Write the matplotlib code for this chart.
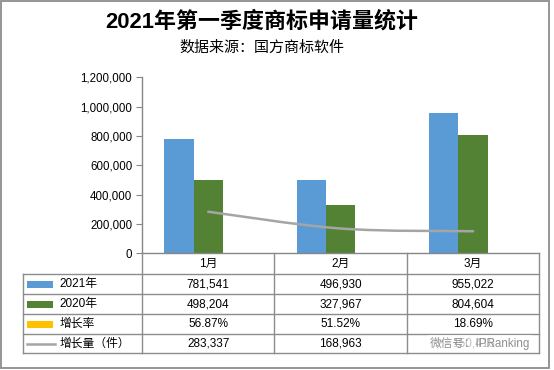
import matplotlib
matplotlib.use("Agg")
import matplotlib.pyplot as plt
import matplotlib.transforms as mtransforms
from matplotlib.patches import Rectangle
from matplotlib.lines import Line2D
from matplotlib.path import Path
from matplotlib.patches import PathPatch
import numpy as np

plt.rcParams['font.family'] = ['Liberation Sans', 'Noto Sans CJK SC', 'DejaVu Sans']

title = "2021年第一季度商标申请量统计"
subtitle = "数据来源：国方商标软件"
months = ["1月", "2月", "3月"]
series_names = ["2021年", "2020年", "增长率", "增长量（件）"]
v2021 = [781541, 496930, 955022]
v2020 = [498204, 327967, 804604]
growth_rate = [0.5687, 0.5152, 0.1869]
growth_rate_txt = ["56.87%", "51.52%", "18.69%"]
growth_amt = [283337, 168963, 150418]
growth_amt_txt = ["283,337", "168,963", "150,418"]
yticks = [0, 200000, 400000, 600000, 800000, 1000000, 1200000]
watermark = "微信号：IPRanking"

C_BLUE = "#5B9BD5"
C_GREEN = "#548235"
C_YELLOW = "#FFC000"
C_GRAY = "#A5A5A5"
C_AXIS = "#868686"

W, H = 554, 370
fig = plt.figure(figsize=(W / 100, H / 100), dpi=100)
fig.patch.set_facecolor("white")

def fx(px):
    return px / W

def fy(py):
    return 1 - py / H

# outer border
fig.patches.append(Rectangle((fx(1), fy(368)), fx(548), (367) / H, transform=fig.transFigure,
                             fill=False, edgecolor="#8C8C8C", linewidth=1.3))

x0, x1 = 142, 539.3
ytop, ybot = 77.3, 253.3
ax = fig.add_axes([fx(x0), fy(ybot), (x1 - x0) / W, (ybot - ytop) / H])
ax.set_xlim(-0.5, 2.5)
ax.set_ylim(0, 1200000)

x = np.arange(len(months))
bw = 0.222
ax.bar(x - bw, v2021, width=bw, color=C_BLUE, zorder=2)
ax.bar(x, v2020, width=bw, color=C_GREEN, zorder=2)
ax.bar(x + bw, growth_rate, width=bw, color=C_YELLOW, zorder=2)

# smoothed line (Catmull-Rom style bezier through data points)
pts = list(zip(x.astype(float), growth_amt))
verts = [pts[0]]
codes = [Path.MOVETO]
t = 1 / 6
for i in range(len(pts) - 1):
    p0 = pts[i - 1] if i > 0 else pts[i]
    p1 = pts[i]
    p2 = pts[i + 1]
    p3 = pts[i + 2] if i + 2 < len(pts) else pts[i + 1]
    c1 = (p1[0] + (p2[0] - p0[0]) * t, p1[1] + (p2[1] - p0[1]) * t)
    c2 = (p2[0] - (p3[0] - p1[0]) * t, p2[1] - (p3[1] - p1[1]) * t)
    verts += [c1, c2, p2]
    codes += [Path.CURVE4] * 3
ax.add_patch(PathPatch(Path(verts, codes), fill=False, edgecolor=C_GRAY, linewidth=1.8,
                       zorder=3, capstyle="round"))

ax.set_yticks(yticks)
ax.set_yticklabels([f"{v:,}" for v in yticks], fontsize=8.3)
ax.set_xticks([])
for s in ["top", "right"]:
    ax.spines[s].set_visible(False)
for s in ["left", "bottom"]:
    ax.spines[s].set_color(C_AXIS)
    ax.spines[s].set_linewidth(1.0)
ax.tick_params(axis="y", direction="out", length=4, color=C_AXIS, pad=3)

# titles
fig.text(fx(262), fy(22), title, ha="center", va="center", fontsize=15.8, fontweight="bold")
fig.text(fx(262), fy(48), subtitle, ha="center", va="center", fontsize=10.8)

# table grid
lc = "#8C8C8C"
lw = 1.0
bounds_px = [x0 + k * (x1 - x0) / 3 for k in range(4)]
rows_px = [274.3, 294.3, 314.3, 334.3, 353.0]
for bx in bounds_px:
    fig.add_artist(Line2D([fx(bx), fx(bx)], [fy(ybot), fy(rows_px[-1])], transform=fig.transFigure,
                          color=lc, linewidth=lw))
fig.add_artist(Line2D([fx(23.3), fx(23.3)], [fy(rows_px[0]), fy(rows_px[-1])], transform=fig.transFigure,
                      color=lc, linewidth=lw))
for ry in rows_px:
    fig.add_artist(Line2D([fx(23.3), fx(x1)], [fy(ry), fy(ry)], transform=fig.transFigure,
                          color=lc, linewidth=lw))

blend = mtransforms.blended_transform_factory(ax.transData, fig.transFigure)
for i, m in enumerate(months):
    fig.text(i, fy(264), m, transform=blend, ha="center", va="center", fontsize=8.5)

row_vals = [[f"{v:,}" for v in v2021], [f"{v:,}" for v in v2020], growth_rate_txt, growth_amt_txt]
row_cy = [(rows_px[k] + rows_px[k + 1]) / 2 for k in range(4)]
for r, vals in enumerate(row_vals):
    for i, s in enumerate(vals):
        fig.text(i, fy(row_cy[r]), s, transform=blend, ha="center", va="center", fontsize=8.5)

# legend keys
for r, col in enumerate([C_BLUE, C_GREEN, C_YELLOW]):
    fig.patches.append(Rectangle((fx(27.3), fy(row_cy[r] + 3.5)), 25.4 / W, 7 / H,
                                 transform=fig.transFigure, facecolor=col, edgecolor="none"))
fig.add_artist(Line2D([fx(27), fx(55)], [fy(row_cy[3]), fy(row_cy[3])], transform=fig.transFigure,
                      color=C_GRAY, linewidth=1.8))
for r, name in enumerate(series_names):
    fig.text(fx(59.3), fy(row_cy[r]), name, ha="left", va="center", fontsize=8.5)

# watermark (overlays the last cell, as in the reference)
fig.text(fx(430), fy(343.5), watermark, ha="left", va="center", fontsize=8.4,
         color="#8F8F8F", zorder=10,
         bbox=dict(boxstyle="square,pad=0.15", facecolor="white", edgecolor="none", alpha=0.75))

fig.savefig("out.png", dpi=100, facecolor="white")
